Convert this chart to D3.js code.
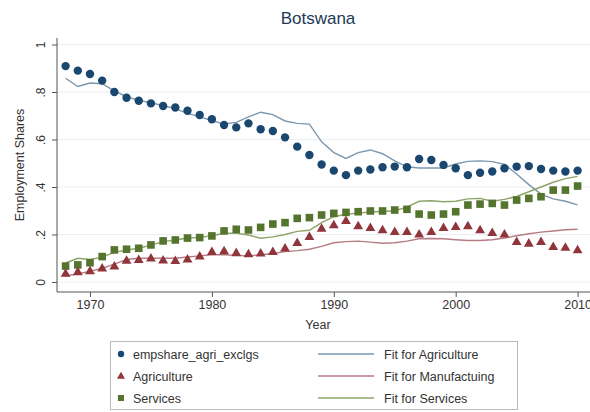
<!DOCTYPE html>
<html>
<head>
<meta charset="utf-8">
<script src="https://cdn.jsdelivr.net/npm/d3@7"></script>
<style>
  body { margin: 0; background: #fff; }
  text { font-family: "Liberation Sans", Arial, sans-serif; fill: #333; }
  .axis path, .axis line { stroke: #555; }
</style>
</head>
<body>
<svg id="chart"></svg>
<script>
// years 1968..2010
const years = d3.range(1968, 2011);

const empshareAgri = [.909, .89, .876, .848, .80, .776, .763, .752, .741, .735, .721,
  .703, .685, .661, .651, .668, .643, .636, .609, .57, .535, .495,
  .469, .45, .469, .474, .483, .486, .483, .518, .514, .493,
  .479, .45, .46, .465, .479, .486, .488, .476, .469, .465, .469];

const agriculture = [.036, .043, .047, .058, .067, .091, .094, .1, .092, .09, .096,
  .109, .128, .131, .123, .118, .121, .128, .142, .166, .191, .226,
  .24, .258, .236, .229, .219, .212, .212, .201, .212, .229,
  .233, .236, .219, .208, .201, .17, .163, .17, .149, .146, .135];

const services = [.067, .072, .081, .107, .135, .138, .142, .156, .173, .177, .185,
  .187, .194, .215, .222, .219, .23, .244, .25, .268, .271, .282,
  .289, .293, .296, .299, .299, .303, .306, .286, .282, .286,
  .296, .324, .328, .331, .324, .345, .352, .359, .387, .387, .404];

const fitAgri = [.858, .823, .838, .835, .805, .78, .765, .755, .742, .73, .71,
  .695, .68, .665, .672, .695, .715, .705, .678, .668, .665, .59,
  .545, .52, .545, .556, .54, .51, .485, .48, .48, .48,
  .497, .508, .51, .507, .495, .455, .41, .37, .35, .34, .325];

const fitManu = [.025, .035, .045, .058, .075, .095, .1, .1, .1, .1, .105,
  .11, .115, .115, .112, .11, .115, .12, .128, .132, .138, .15,
  .165, .17, .172, .168, .163, .165, .172, .182, .183, .182,
  .178, .175, .175, .178, .185, .195, .203, .21, .215, .22, .222];

const fitServ = [.08, .10, .095, .105, .125, .135, .142, .155, .17, .177, .185,
  .188, .195, .205, .205, .198, .184, .19, .2, .213, .218, .25,
  .275, .285, .29, .295, .297, .3, .315, .34, .342, .338,
  .34, .35, .352, .34, .348, .36, .38, .40, .42, .435, .445];

const yTicks = [0, .2, .4, .6, .8, 1];
const yTickLabels = ["0", ".2", ".4", ".6", ".8", "1"];
const xTicks = [1970, 1980, 1990, 2000, 2010];

const C = {
  dot: "#1a476f", tri: "#90353b", sq: "#55752f",
  lAgri: "#7d97ad", lManu: "#b77b84", lServ: "#8fa36a"
};

const W = 590, H = 412;
const svg = d3.select("#chart").attr("width", W).attr("height", H);

const x = d3.scaleLinear().domain([1968, 2010]).range([65.6, 577.6]);
const y = d3.scaleLinear().domain([0, 1]).range([282, 44.5]);
const plotLeft = 57, plotRight = 590, plotBottom = 292;

// Grid
svg.append("g").selectAll("line").data(yTicks).join("line")
  .attr("x1", plotLeft).attr("x2", plotRight)
  .attr("y1", d => y(d)).attr("y2", d => y(d))
  .attr("stroke", "#eaeff2").attr("stroke-width", 1);

// Title
svg.append("text").attr("x", 318).attr("y", 24).attr("text-anchor", "middle")
  .style("font-size", "17px").style("fill", "#1e3a57").text("Botswana");

// Axes
const yAxis = svg.append("g").attr("class", "axis").attr("transform", `translate(${plotLeft},0)`)
  .call(d3.axisLeft(y).tickValues(yTicks).tickFormat((d, i) => yTickLabels[i]).tickSize(5).tickSizeOuter(0));
yAxis.select(".domain").attr("d", `M0,${plotBottom}V38`);
yAxis.selectAll("text").attr("transform", "rotate(-90)").attr("x", 0).attr("y", -12)
  .attr("dy", "0").attr("text-anchor", "middle").style("font-size", "12px");

const xAxis = svg.append("g").attr("class", "axis").attr("transform", `translate(0,${plotBottom})`)
  .call(d3.axisBottom(x).tickValues(xTicks).tickFormat(d3.format("d")).tickSize(5).tickSizeOuter(0));
xAxis.select(".domain").attr("d", `M${plotLeft},0H${plotRight}`);
xAxis.selectAll("text").style("font-size", "12.5px").attr("y", 8);

svg.append("text").attr("transform", "translate(24,165) rotate(-90)")
  .attr("text-anchor", "middle").style("font-size", "12.5px").text("Employment Shares");
svg.append("text").attr("x", 318).attr("y", 329).attr("text-anchor", "middle")
  .style("font-size", "12.5px").text("Year");

// Fit lines
const mkLine = vals => d3.line().x((d, i) => x(years[i])).y(d => y(d))(vals);
[[fitAgri, C.lAgri], [fitManu, C.lManu], [fitServ, C.lServ]].forEach(([vals, col]) => {
  svg.append("path").attr("d", mkLine(vals)).attr("fill", "none")
    .attr("stroke", col).attr("stroke-width", 1.4);
});

// Markers
const triPath = d3.symbol().type(d3.symbolTriangle).size(42);
const g = svg.append("g");
g.selectAll(".sq").data(services).join("rect")
  .attr("x", (d, i) => x(years[i]) - 3.8).attr("y", d => y(d) - 3.8)
  .attr("width", 7.6).attr("height", 7.6).attr("fill", C.sq);
g.selectAll(".tri").data(agriculture).join("path")
  .attr("d", triPath).attr("transform", (d, i) => `translate(${x(years[i])},${y(d) + 0.5})`)
  .attr("fill", C.tri);
g.selectAll(".dot").data(empshareAgri).join("circle")
  .attr("cx", (d, i) => x(years[i])).attr("cy", d => y(d)).attr("r", 4.2).attr("fill", C.dot);

// Legend
const lg = svg.append("g");
lg.append("rect").attr("x", 110.5).attr("y", 341.5).attr("width", 407).attr("height", 68)
  .attr("fill", "#fff").attr("stroke", "#bbb");
const rowsY = [354, 376, 398];
const leftLabels = ["empshare_agri_exclgs", "Agriculture", "Services"];
const rightLabels = ["Fit for Agriculture", "Fit for Manufactuing", "Fit for Services"];
const rightCols = [C.lAgri, C.lManu, C.lServ];
lg.append("circle").attr("cx", 121).attr("cy", rowsY[0]).attr("r", 3.2).attr("fill", C.dot);
lg.append("path").attr("d", d3.symbol().type(d3.symbolTriangle).size(28))
  .attr("transform", `translate(121,${rowsY[1] + 0.5})`).attr("fill", C.tri);
lg.append("rect").attr("x", 118).attr("y", rowsY[2] - 3).attr("width", 6).attr("height", 6).attr("fill", C.sq);
leftLabels.forEach((t, i) => lg.append("text").attr("x", 133).attr("y", rowsY[i] + 4.5)
  .style("font-size", "12.5px").text(t));
rightLabels.forEach((t, i) => {
  lg.append("line").attr("x1", 318).attr("x2", 374).attr("y1", rowsY[i]).attr("y2", rowsY[i])
    .attr("stroke", rightCols[i]).attr("stroke-width", 1.4);
  lg.append("text").attr("x", 384).attr("y", rowsY[i] + 4.5).style("font-size", "12.5px").text(t);
});
</script>
</body>
</html>
